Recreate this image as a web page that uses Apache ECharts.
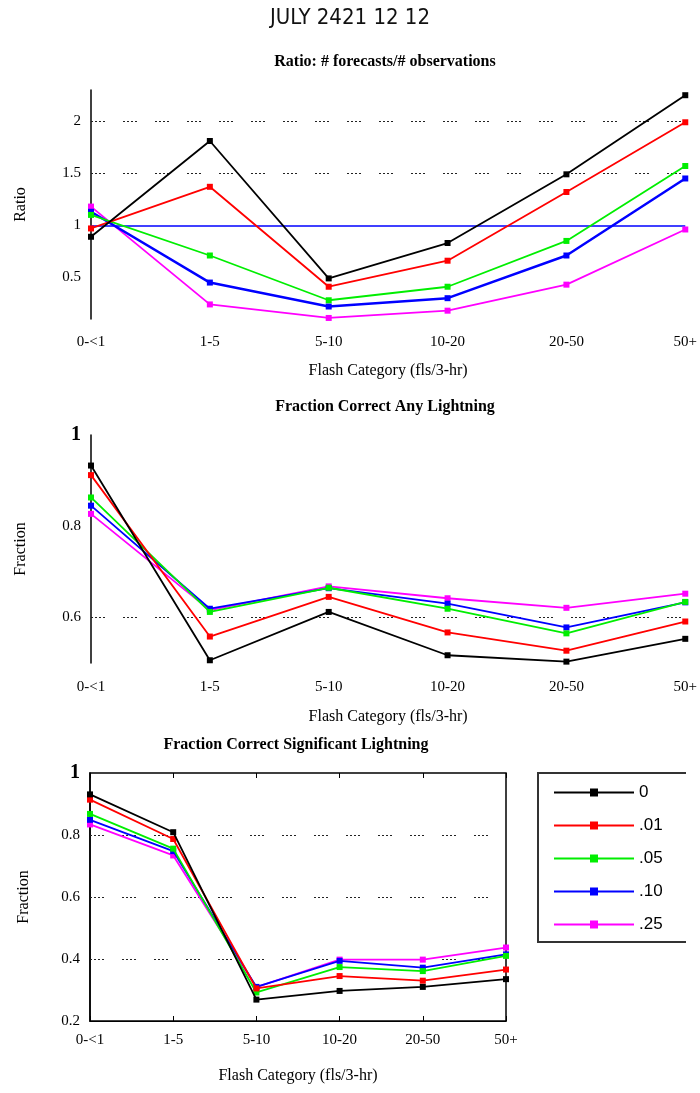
<!DOCTYPE html>
<html><head><meta charset="utf-8">
<script src="https://cdn.jsdelivr.net/npm/echarts@6/dist/echarts.min.js"></script>
<style>html,body{margin:0;padding:0;background:#fff}#c{width:700px;height:1093px}</style>
</head><body><div id="c"></div>
<script>
// ---- data ----
const categories = ['0-<1', '1-5', '5-10', '10-20', '20-50', '50+'];
const seriesNames = ['0', '.01', '.05', '.10', '.25'];

const mainTitle = 'JULY 2421 12 12';
const titleRatio = 'Ratio: # forecasts/# observations';
const titleAny = 'Fraction Correct Any Lightning';
const titleSig = 'Fraction Correct Significant Lightning';
const xName = 'Flash Category (fls/3-hr)';

// Ratio panel
const ratio0   = [0.89, 1.81, 0.49, 0.83, 1.49, 2.25];
const ratio01  = [0.97, 1.37, 0.41, 0.66, 1.32, 1.99];
const ratio05  = [1.10, 0.71, 0.28, 0.41, 0.85, 1.57];
const ratio10  = [1.13, 0.45, 0.22, 0.30, 0.71, 1.45];
const ratio25  = [1.18, 0.24, 0.11, 0.18, 0.43, 0.96];

// Fraction correct any lightning
const any0  = [0.933, 0.506, 0.612, 0.517, 0.503, 0.553];
const any01 = [0.912, 0.558, 0.645, 0.567, 0.527, 0.591];
const any05 = [0.863, 0.612, 0.665, 0.619, 0.565, 0.634];
const any10 = [0.845, 0.619, 0.664, 0.630, 0.578, 0.633];
const any25 = [0.827, 0.616, 0.668, 0.642, 0.621, 0.652];

// Fraction correct significant lightning
const sig0  = [0.931, 0.809, 0.269, 0.297, 0.310, 0.335];
const sig01 = [0.914, 0.787, 0.305, 0.345, 0.330, 0.366];
const sig05 = [0.868, 0.756, 0.292, 0.374, 0.361, 0.410];
const sig10 = [0.849, 0.748, 0.310, 0.394, 0.372, 0.415];
const sig25 = [0.834, 0.734, 0.309, 0.398, 0.398, 0.437];

// reference lines (axis values)
const ratioGridLines = [1.5, 2];
const ratioRefLine = 1;
const anyGridLines = [0.6];
const sigGridLines = [0.4, 0.6, 0.8];

// ---- styles ----
const colors = ['#000000', '#ff0000', '#00ee00', '#0000ff', '#ff00ff'];
const serif = "'Liberation Serif', 'Times New Roman', serif";
const sans = "'Liberation Sans', Arial, sans-serif";
const dotted = [2, 2, 2, 2, 2, 2, 2, 18];

const panels = [
  { data: [ratio0, ratio01, ratio05, ratio10, ratio25], grid: ratioGridLines, ref: ratioRefLine },
  { data: [any0, any01, any05, any10, any25], grid: anyGridLines },
  { data: [sig0, sig01, sig05, sig10, sig25], grid: sigGridLines }
];

const series = [];
panels.forEach((p, gi) => {
  p.data.forEach((arr, si) => {
    const s = {
      type: 'line', name: seriesNames[si],
      xAxisIndex: gi, yAxisIndex: gi,
      data: arr,
      symbol: 'rect', symbolSize: 6,
      lineStyle: { color: colors[si], width: si === 3 && gi === 0 ? 2.5 : 1.8 },
      itemStyle: { color: colors[si] },
      z: 10 - si,
      animation: false
    };
    if (si === 0) {
      const ml = p.grid.map(v => ({ yAxis: v, lineStyle: { color: '#222', width: 1.2, type: dotted } }));
      if (p.ref !== undefined) ml.push({ yAxis: p.ref, lineStyle: { color: '#0000ff', width: 1.5, type: 'solid' } });
      s.markLine = { silent: true, symbol: ['none', 'none'], label: { show: false }, data: ml, animation: false };
    }
    series.push(s);
  });
});

const labelStyle = { color: '#000', fontFamily: serif, fontSize: 15 };
const nameStyle = { color: '#000', fontFamily: serif, fontSize: 16 };

function xAx(gi, margin, gap, showLine) {
  return {
    type: 'category', gridIndex: gi, data: categories, boundaryGap: false,
    axisLine: { show: showLine, lineStyle: { color: '#000' } },
    axisTick: { show: showLine, inside: true, length: 5, lineStyle: { color: '#000' } },
    axisLabel: Object.assign({ margin: margin }, labelStyle),
    splitLine: { show: false },
    name: xName, nameLocation: 'middle', nameGap: gap, nameTextStyle: nameStyle
  };
}

const option = {
  backgroundColor: '#fff',
  animation: false,
  grid: [
    { left: 91, right: 14, top: 90, bottom: 774 },
    { left: 91, right: 14, top: 435, bottom: 430 },
    { left: 90, right: 194, top: 773, bottom: 72, show: true, borderColor: '#000', borderWidth: 1.5 }
  ],
  xAxis: [
    xAx(0, 16, 44, false),
    xAx(1, 17, 46, false),
    xAx(2, 12, 47, true),
    { type: 'category', gridIndex: 2, position: 'top', data: categories, boundaryGap: false,
      axisLine: { show: false }, axisTick: { show: true, inside: true, length: 5, lineStyle: { color: '#000' } },
      axisLabel: { show: false }, splitLine: { show: false } }
  ],
  yAxis: [
    { type: 'value', gridIndex: 0, min: 0.1, max: 2.3, interval: 0.1,
      axisLine: { show: true, lineStyle: { color: '#000', width: 1.5 } }, axisTick: { show: false },
      splitLine: { show: false },
      axisLabel: Object.assign({ margin: 10, formatter: v => Math.abs(v * 2 - Math.round(v * 2)) < 1e-6 ? String(Math.round(v * 2) / 2) : '' }, labelStyle),
      name: 'Ratio', nameLocation: 'middle', nameRotate: 90, nameGap: 62, nameTextStyle: nameStyle },
    { type: 'value', gridIndex: 1, min: 0.5, max: 1, interval: 0.1,
      axisLine: { show: true, lineStyle: { color: '#000', width: 1.5 } }, axisTick: { show: false },
      splitLine: { show: false },
      axisLabel: Object.assign({ margin: 10,
        formatter: v => { const t = Math.round(v * 10); if (t % 2 !== 0 || t === 5) return ''; return t === 10 ? '{b|1}' : String(t / 10); },
        rich: { b: { fontFamily: serif, fontSize: 20, fontWeight: 'bold', color: '#000' } } }, labelStyle),
      name: 'Fraction', nameLocation: 'middle', nameRotate: 90, nameGap: 62, nameTextStyle: nameStyle },
    { type: 'value', gridIndex: 2, min: 0.2, max: 1, interval: 0.2,
      axisLine: { show: true, lineStyle: { color: '#000', width: 1.5 } }, axisTick: { show: false },
      splitLine: { show: false },
      axisLabel: Object.assign({ margin: 10,
        formatter: v => Math.abs(v - 1) < 1e-6 ? '{b|1}' : String(Math.round(v * 10) / 10),
        rich: { b: { fontFamily: serif, fontSize: 20, fontWeight: 'bold', color: '#000' } } }, labelStyle),
      name: 'Fraction', nameLocation: 'middle', nameRotate: 90, nameGap: 58, nameTextStyle: nameStyle }
  ],
  legend: {
    data: seriesNames, orient: 'vertical', left: 538, top: 773,
    padding: [11, 10, 10, 15], itemWidth: 80, itemHeight: 10, itemGap: 16,
    textStyle: { color: '#000', fontFamily: sans, fontSize: 17 },
    selectedMode: false
  },
  graphic: [
    { type: 'text', x: 350, y: 18, style: { text: mainTitle, fill: '#111', font: "22px 'Liberation Sans Narrow', 'DejaVu Sans Condensed', sans-serif", textAlign: 'center', textVerticalAlign: 'middle' } },
    { type: 'text', x: 385, y: 62, style: { text: titleRatio, fill: '#000', font: "bold 16px " + serif, textAlign: 'center', textVerticalAlign: 'middle' } },
    { type: 'text', x: 385, y: 407, style: { text: titleAny, fill: '#000', font: "bold 16px " + serif, textAlign: 'center', textVerticalAlign: 'middle' } },
    { type: 'text', x: 296, y: 745, style: { text: titleSig, fill: '#000', font: "bold 16px " + serif, textAlign: 'center', textVerticalAlign: 'middle' } },
    { type: 'polyline', shape: { points: [[686, 773], [538, 773], [538, 942], [686, 942]] }, style: { stroke: '#333', lineWidth: 2, fill: null } }
  ],
  series: series
};

const chart = echarts.init(document.getElementById('c'), null, { renderer: 'canvas' });
chart.setOption(option);
</script>
</body></html>
